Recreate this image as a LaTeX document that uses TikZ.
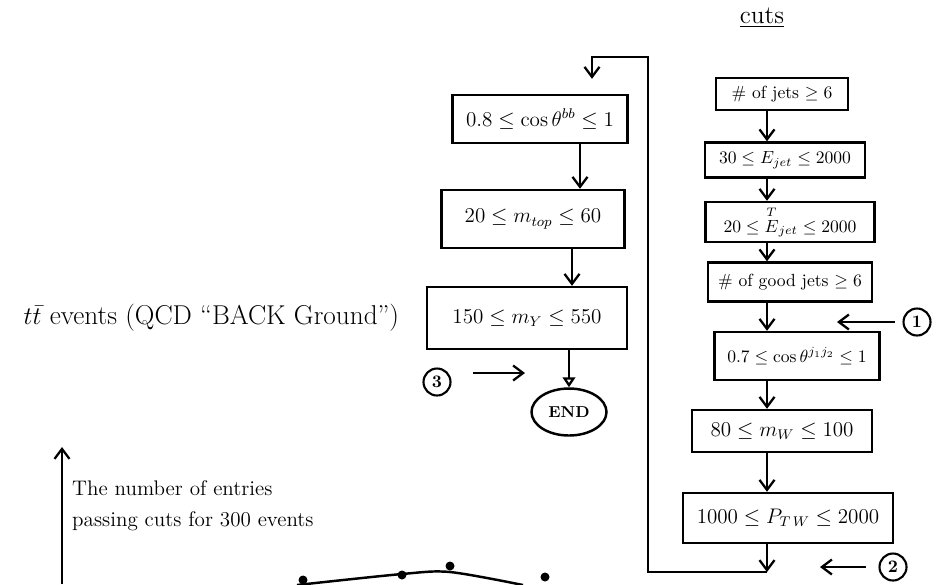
\documentclass[tikz,border=0pt]{standalone}
\usepackage{amsmath}
\usetikzlibrary{arrows.meta,shapes.geometric}
\begin{document}
\begin{tikzpicture}[
  cut/.style={rectangle, draw, line width=1.4pt, minimum width=#1,
              inner sep=2pt, font=\normalsize},
  cut/.default={3cm},
  refnum/.style={circle, draw, line width=1.2pt, minimum size=5.4mm, inner sep=0pt, font=\normalsize\bfseries},
  arr/.style={-{Straight Barb[length=2mm,width=3mm]}, line width=1.3pt},
  lbl/.style={anchor=west, font=\large}
]
  \useasboundingbox (0,0) rectangle (18.94,-11.68);

  % Titre
  \node[font=\Large] (title) at (15.24,-0.36) {\underline{cuts}};

  % Coupures (colonne de droite)
  \node[cut=2.64cm, minimum height=6.4mm] (c1) at (15.64,-1.88) {\# of jets $\geq 6$};
  \node[cut=3.2cm, minimum height=7mm] (c2) at (15.70,-3.20) {$30 \leq E_{jet} \leq 2000$};
  \node[cut=3.38cm, minimum height=8mm] (c3) at (15.80,-4.44) {$20 \leq \overset{T}{E}_{jet} \leq 2000$};
  \node[cut=3.28cm, minimum height=7.8mm] (c4) at (15.80,-5.64) {\# of good jets $\geq 6$};
  \node[cut=3.3cm, minimum height=9.6mm] (c5) at (15.94,-7.12) {$0.7 \leq \cos\theta^{j_1 j_2} \leq 1$};
  \node[cut=3.6cm, minimum height=8.4mm, font=\large] (c6) at (15.64,-8.62) {$80 \leq m_{W} \leq 100$};
  \node[cut=4.2cm, minimum height=10mm, font=\large] (c7) at (15.76,-10.36) {$1000 \leq P_{T\,W} \leq 2000$};
  \coordinate (rx) at (15.34,0);
  \draw[arr] (c1.south -| rx) -- (c2.north -| rx);
  \draw[arr] (c2.south -| rx) -- (c3.north -| rx);
  \draw[arr] (c3.south -| rx) -- (c4.north -| rx);
  \draw[arr] (c4.south -| rx) -- (c5.north -| rx);
  \draw[arr] (c5.south -| rx) -- (c6.north -| rx);
  \draw[arr] (c6.south -| rx) -- (c7.north -| rx);

  % Coupures (colonne de gauche)
  \node[cut=3.5cm, minimum height=9.6mm, font=\large] (ca) at (10.80,-2.38) {$0.8 \leq \cos\theta^{bb} \leq 1$};
  \node[cut=3.66cm, minimum height=11.6mm, font=\large] (cb) at (10.66,-4.38) {$20 \leq m_{top} \leq 60$};
  \node[cut=4cm, minimum height=12.4mm, font=\large] (cc) at (10.54,-6.36) {$150 \leq m_{Y} \leq 550$};
  \node[ellipse, draw, line width=1.4pt, minimum width=1.5cm, minimum height=9.4mm,
        inner sep=0pt, font=\small\bfseries] (end) at (11.38,-8.24) {END};
  \draw[arr] (ca.south -| 11.6,0) -- (cb.north -| 11.6,0);
  \draw[arr] (cb.south -| 11.44,0) -- (cc.north -| 11.44,0);
  \draw[-{Triangle[open,length=2mm,width=2.5mm]}, line width=1.3pt] (cc.south -| end) -- (end);

  % Boucle
  \coordinate (lbot) at (12.96,-11.44);
  \coordinate (ltop) at (12.96,-1.14);
  \coordinate (ax) at (11.84,0);
  \draw[arr] (c7.south -| rx) -- (lbot -| rx);
  \draw[arr] (lbot -| rx) -- (lbot) -- (ltop) -- (ltop -| ax) -- ([yshift=3mm]ca.north -| ax);

  % Reperes
  \node[refnum] (m1) at (18.34,-6.44) {1};
  \coordinate (p1) at (16.74,-6.44);
  \draw[arr, shorten <=1.5mm] (m1) -- (p1);
  \node[refnum] (m2) at (17.86,-11.34) {2};
  \coordinate (p2) at (16.40,-11.34);
  \draw[arr, shorten <=2.5mm] (m2) -- (p2);
  \node[refnum] (m3) at (8.74,-7.64) {3};
  \coordinate (q3) at (9.46,-7.46);
  \coordinate (p3) at (10.50,-7.46);
  \draw[arr] (q3) -- (p3);

  % Legende
  \node[lbl, font=\fontsize{15.5}{18}\selectfont] (bg) at (0.35,-6.36) {$t\bar{t}$ events (QCD ``BACK Ground'')};

  % Graphe
  \coordinate (y0) at (1.24,-11.68);
  \coordinate (y1) at (1.24,-8.94);
  \draw[arr] (y0) -- (y1);
  \node[lbl] (yl1) at (1.32,-9.76) {The number of entries};
  \node[lbl] (yl2) at (1.32,-10.42) {passing cuts for 300 events};
  \draw[line width=1.4pt] plot[smooth] coordinates {(5.94,-11.70) (8.04,-11.48) (9.0,-11.44) (10.46,-11.70)};
  \foreach \p in {(6.06,-11.60), (8.04,-11.50), (9.00,-11.32), (10.90,-11.54)}
    \fill \p circle (0.09);
\end{tikzpicture}
\end{document}
